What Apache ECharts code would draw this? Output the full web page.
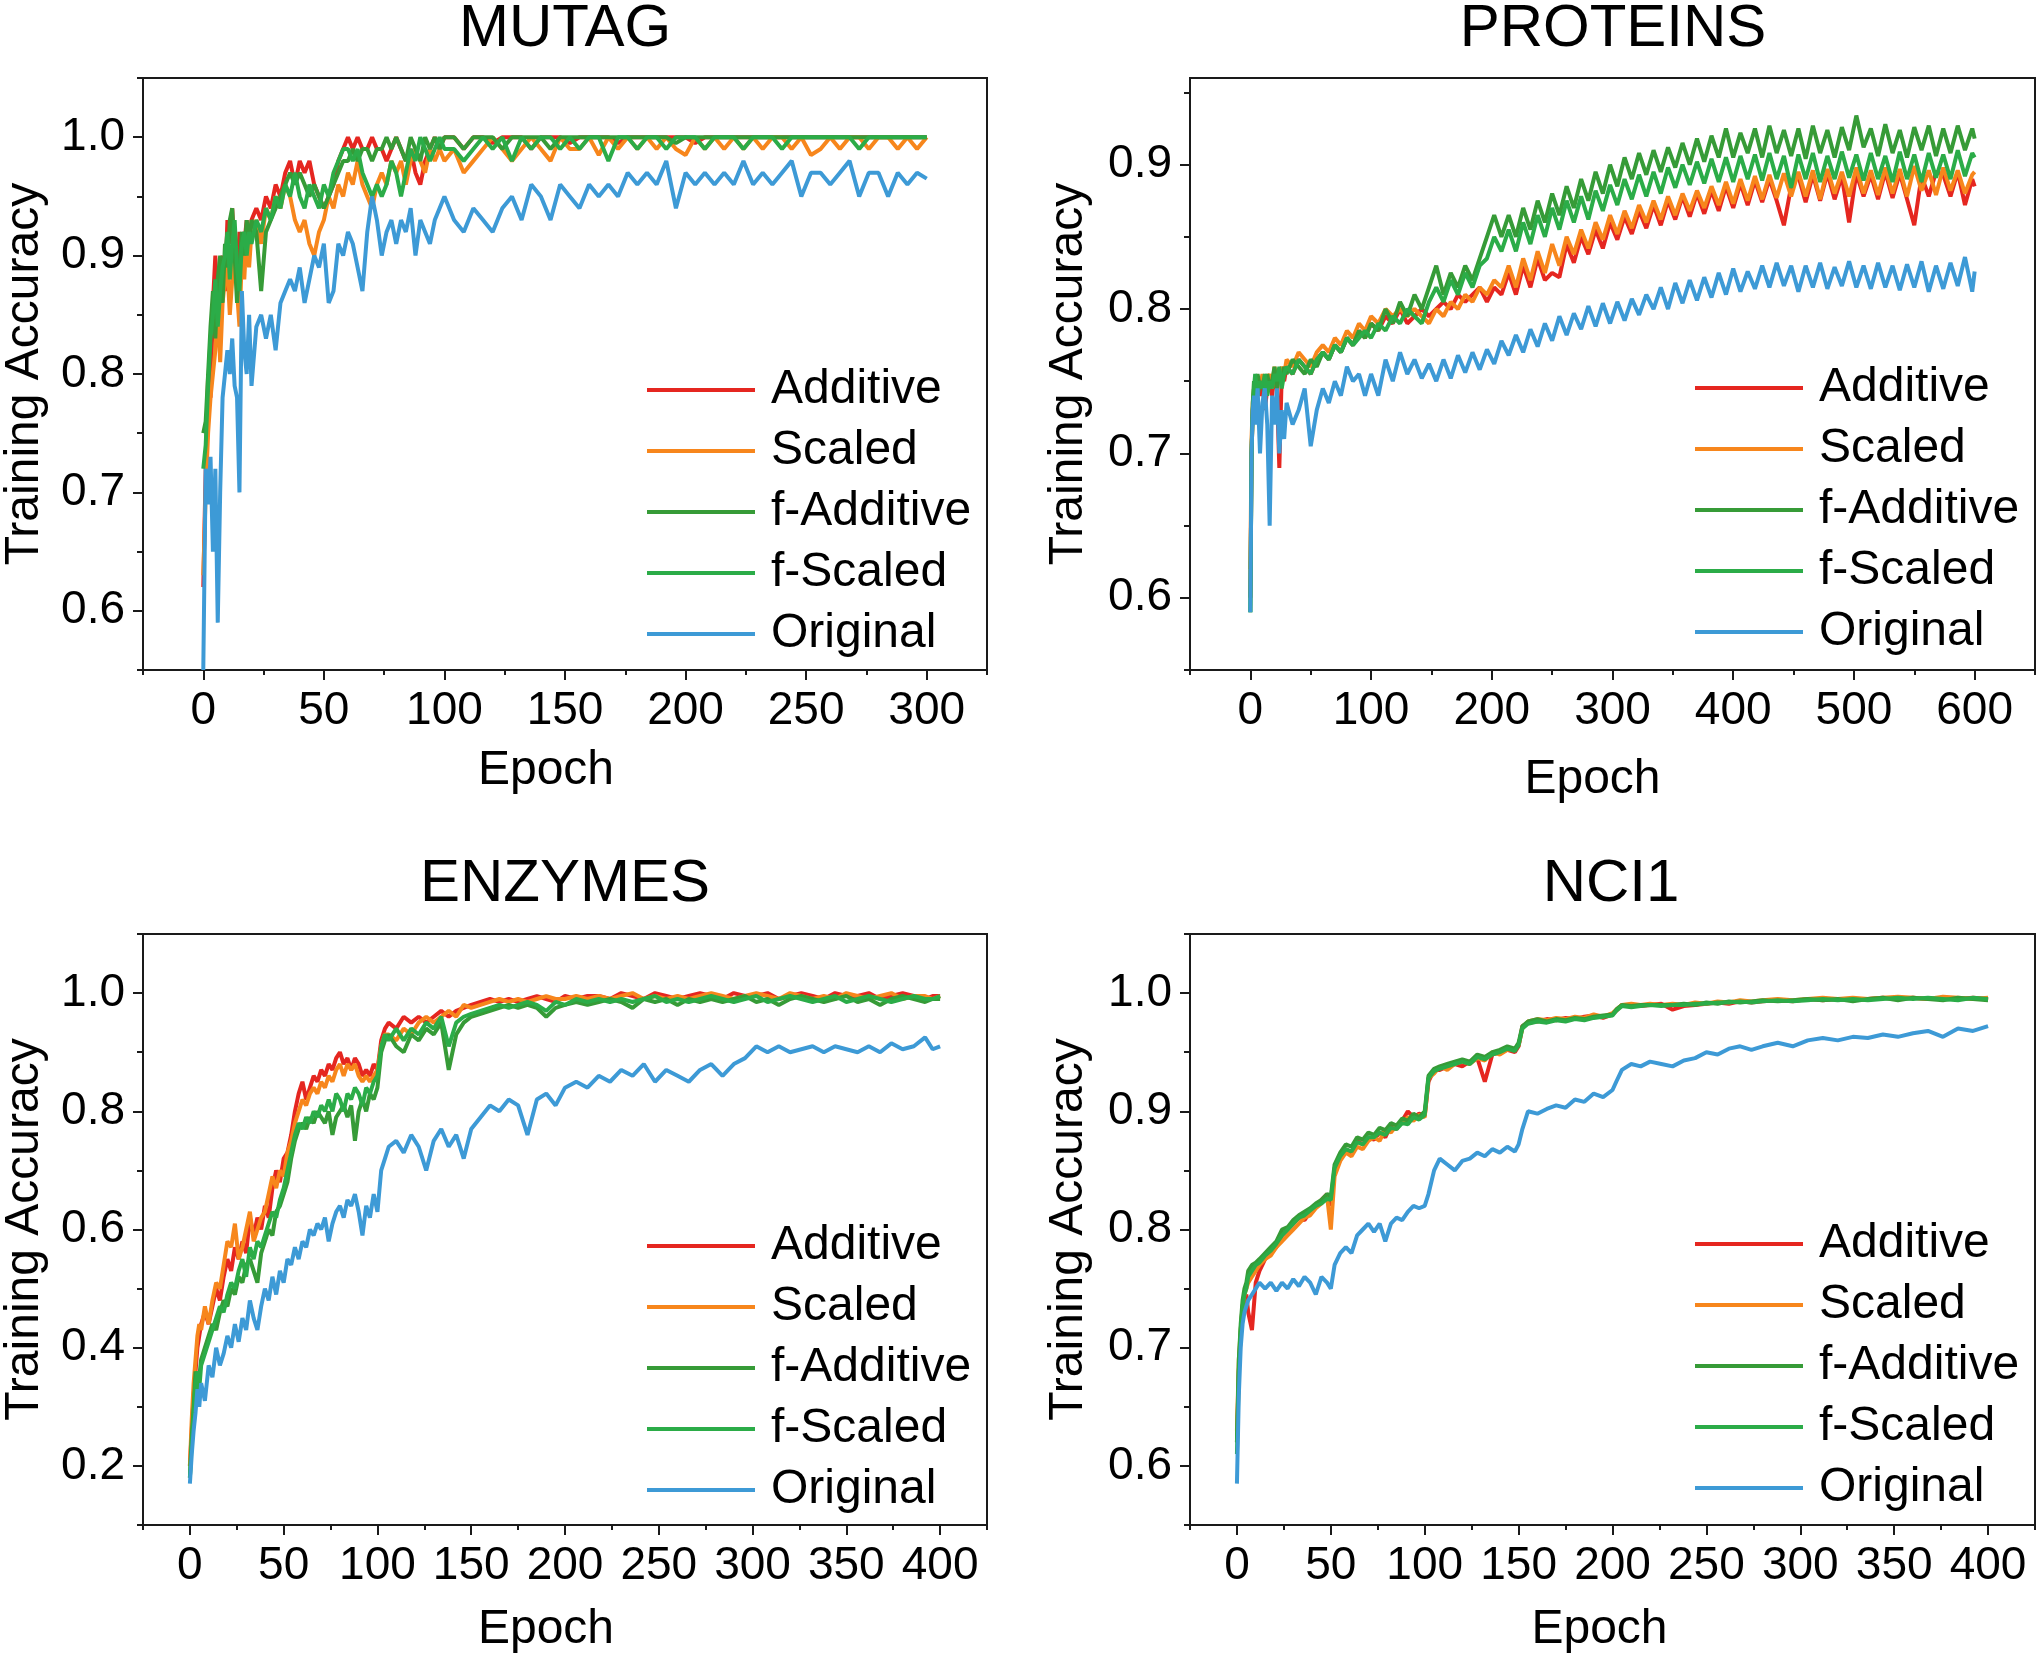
<!DOCTYPE html>
<html>
<head>
<meta charset="utf-8">
<title>Training Accuracy</title>
<script src="https://cdn.jsdelivr.net/npm/echarts@6/dist/echarts.min.js"></script>
<style>
  html, body { margin: 0; padding: 0; background: #fff; }
  #chart { width: 2040px; height: 1656px; }
</style>
</head>
<body>
<div id="chart"></div>
<script>
// 图例名称与颜色
const seriesNames = ['Additive', 'Scaled', 'f-Additive', 'f-Scaled', 'Original'];
const seriesColors = ['#e52620', '#f7861c', '#369b37', '#2bac48', '#3d9ad6'];

// ---------------- MUTAG ----------------
const mutagEpochs = [
  0, 1, 2, 3, 4, 5, 6, 7, 8, 9,
  10, 11, 12, 13, 14, 15, 16, 17, 18, 19,
  20, 22, 24, 26, 28, 30, 32, 34, 36, 38,
  40, 42, 44, 46, 48, 50, 52, 54, 56, 58,
  60, 62, 64, 66, 68, 70, 72, 74, 76, 78,
  80, 82, 84, 86, 88, 90, 92, 94, 96, 98,
  100,
  104, 108, 112, 116, 120, 124, 128, 132, 136, 140,
  144, 148, 152, 156, 160, 164, 168, 172, 176, 180,
  184, 188, 192, 196, 200, 204, 208, 212, 216, 220,
  224, 228, 232, 236, 240, 244, 248, 252, 256, 260,
  264, 268, 272, 276, 280, 284, 288, 292, 296, 300
];
const mutagAdditive = [
  0.62, 0.72, 0.80, 0.78, 0.86, 0.90, 0.84, 0.88, 0.90, 0.87,
  0.93, 0.91, 0.94, 0.90, 0.88, 0.92, 0.89, 0.91, 0.93, 0.90,
  0.93, 0.94, 0.93, 0.95, 0.94, 0.96, 0.95, 0.97, 0.98, 0.96,
  0.98, 0.97, 0.98, 0.96, 0.95, 0.94, 0.95, 0.96, 0.98, 0.99,
  1.0, 0.99, 1.0, 0.99, 0.99, 1.0, 0.99, 0.99, 0.98, 0.99,
  1.0, 0.99, 0.98, 0.99, 0.97, 0.96, 0.98, 0.99, 1.0, 0.99,
  1.0,
  1.0, 0.99, 1.0, 1.0, 0.995, 1.0, 1.0, 1.0, 0.99, 1.0,
  1.0, 1.0, 0.995, 1.0, 1.0, 1.0, 1.0, 0.995, 1.0, 1.0,
  1.0, 1.0, 1.0, 1.0, 1.0, 0.995, 1.0, 1.0, 1.0, 1.0,
  1.0, 1.0, 1.0, 1.0, 1.0, 1.0, 1.0, 1.0, 1.0, 1.0,
  1.0, 1.0, 1.0, 1.0, 1.0, 1.0, 1.0, 1.0, 1.0, 1.0
];
const mutagScaled = [
  0.63, 0.70, 0.75, 0.78, 0.80, 0.82, 0.86, 0.81, 0.86, 0.88,
  0.89, 0.85, 0.88, 0.90, 0.87, 0.84, 0.90, 0.88, 0.92, 0.89,
  0.92, 0.93, 0.91, 0.94, 0.93, 0.95, 0.94, 0.96, 0.95, 0.93,
  0.92, 0.93, 0.91, 0.90, 0.92, 0.93, 0.95, 0.94, 0.96, 0.95,
  0.97, 0.96, 0.98, 0.96, 0.95, 0.94, 0.96, 0.97, 0.96, 0.98,
  0.97, 0.98, 0.96, 0.98, 0.99, 0.98, 0.97, 0.99, 0.98, 0.99,
  0.98,
  0.99, 0.97, 0.98, 0.99, 1.0, 0.99, 0.98, 0.99, 1.0, 0.99,
  0.98, 1.0, 0.99, 0.99, 1.0, 0.985, 1.0, 0.99, 1.0, 0.99,
  1.0, 0.99, 1.0, 0.99, 0.985, 1.0, 0.99, 1.0, 0.99, 1.0,
  0.99, 1.0, 0.99, 1.0, 1.0, 0.99, 1.0, 0.985, 0.99, 1.0,
  0.99, 1.0, 1.0, 0.99, 1.0, 1.0, 0.99, 1.0, 0.99, 1.0
];
const mutagFAdditive = [
  0.75, 0.76, 0.80, 0.84, 0.87, 0.83, 0.88, 0.90, 0.86, 0.91,
  0.89, 0.93, 0.94, 0.90, 0.86, 0.89, 0.92, 0.90, 0.93, 0.91,
  0.93, 0.92, 0.87, 0.92, 0.93, 0.94, 0.95, 0.96, 0.97, 0.96,
  0.97, 0.96, 0.95, 0.96, 0.95, 0.94, 0.95, 0.96, 0.97, 0.98,
  0.98, 0.99, 0.98, 0.99, 0.99, 0.98, 0.99, 0.99, 1.0, 0.99,
  1.0, 0.99, 0.98, 1.0, 0.99, 0.98, 1.0, 0.99, 1.0, 0.99,
  1.0,
  1.0, 0.99, 1.0, 1.0, 1.0, 0.99, 1.0, 1.0, 1.0, 1.0,
  0.99, 1.0, 1.0, 1.0, 1.0, 1.0, 1.0, 1.0, 1.0, 1.0,
  1.0, 1.0, 1.0, 0.995, 1.0, 1.0, 1.0, 1.0, 1.0, 1.0,
  1.0, 1.0, 1.0, 1.0, 1.0, 1.0, 1.0, 1.0, 1.0, 1.0,
  1.0, 1.0, 1.0, 1.0, 1.0, 1.0, 1.0, 1.0, 1.0, 1.0
];
const mutagFScaled = [
  0.72, 0.74, 0.79, 0.83, 0.85, 0.88, 0.84, 0.87, 0.89, 0.90,
  0.92, 0.88, 0.91, 0.93, 0.89, 0.87, 0.91, 0.92, 0.90, 0.92,
  0.91, 0.93, 0.92, 0.94, 0.93, 0.95, 0.94, 0.96, 0.95, 0.97,
  0.95, 0.94, 0.96, 0.95, 0.94, 0.96, 0.95, 0.97, 0.98, 0.99,
  0.99, 0.98, 0.99, 0.97, 0.96, 0.95, 0.96, 0.95, 0.96, 0.98,
  0.97, 0.95, 0.97, 0.99, 0.98, 1.0, 0.99, 0.98, 0.99, 1.0,
  0.99,
  0.99, 0.98, 0.99, 1.0, 0.99, 1.0, 0.98, 1.0, 0.99, 1.0,
  1.0, 0.99, 1.0, 0.99, 1.0, 1.0, 0.98, 1.0, 1.0, 0.99,
  1.0, 1.0, 0.99, 1.0, 1.0, 1.0, 0.99, 1.0, 1.0, 1.0,
  0.99, 1.0, 1.0, 1.0, 0.99, 1.0, 1.0, 1.0, 1.0, 1.0,
  1.0, 1.0, 0.99, 1.0, 1.0, 1.0, 1.0, 1.0, 1.0, 1.0
];
const mutagOriginal = [
  0.55, 0.72, 0.69, 0.73, 0.65, 0.72, 0.59, 0.70, 0.78, 0.80,
  0.82, 0.80, 0.83, 0.79, 0.78, 0.70, 0.87, 0.82, 0.80, 0.85,
  0.79, 0.84, 0.85, 0.83, 0.85, 0.82, 0.86, 0.87, 0.88, 0.87,
  0.89, 0.86, 0.88, 0.90, 0.89, 0.91, 0.86, 0.87, 0.91, 0.90,
  0.92, 0.91, 0.89, 0.87, 0.92, 0.95, 0.93, 0.90, 0.92, 0.93,
  0.91, 0.93, 0.92, 0.94, 0.90, 0.93, 0.92, 0.91, 0.93, 0.94,
  0.95,
  0.93, 0.92, 0.94, 0.93, 0.92, 0.94, 0.95, 0.93, 0.96, 0.95,
  0.93, 0.96, 0.95, 0.94, 0.96, 0.95, 0.96, 0.95, 0.97, 0.96,
  0.97, 0.96, 0.98, 0.94, 0.97, 0.96, 0.97, 0.96, 0.97, 0.96,
  0.98, 0.96, 0.97, 0.96, 0.97, 0.98, 0.95, 0.97, 0.97, 0.96,
  0.97, 0.98, 0.95, 0.97, 0.97, 0.95, 0.97, 0.96, 0.97, 0.965
];
const mutagXTicks = [0, 50, 100, 150, 200, 250, 300];
const mutagXMinor = [-25, 25, 75, 125, 175, 225, 275, 325];
const mutagYTicks = [0.6, 0.7, 0.8, 0.9, 1.0];
const mutagYMinor = [0.55, 0.65, 0.75, 0.85, 0.95, 1.05];

// ---------------- PROTEINS ----------------
const proteinsEpochs = [
  0, 1, 2, 3, 4, 6, 8, 10, 12, 14,
  16, 18, 20, 22, 24, 26, 28, 30, 35, 40,
  45, 50, 55, 60, 65, 70, 75, 80, 85, 90,
  95, 100, 106, 112, 118, 124, 130, 136, 142, 148,
  154, 160, 166, 172, 178, 184, 190, 196, 202, 208,
  214, 220, 226, 232, 238, 244, 250, 256, 262, 268,
  274, 280, 286, 292, 298, 304, 310, 316, 322, 328,
  334, 340, 346, 352, 358, 364, 370, 376, 382, 388,
  394, 400, 406, 412, 418, 424, 430, 436, 442, 448,
  454, 460, 466, 472, 478, 484, 490, 496, 502, 508,
  514, 520, 526, 532, 538, 544, 550, 556, 562, 568,
  574, 580, 586, 592, 598, 600
];
const proteinsAdditive = [
  0.60, 0.70, 0.73, 0.74, 0.735, 0.745, 0.74, 0.75, 0.73, 0.745,
  0.75, 0.74, 0.755, 0.745, 0.69, 0.755, 0.75, 0.76, 0.755, 0.765,
  0.76, 0.755, 0.765, 0.77, 0.765, 0.775, 0.77, 0.78, 0.775, 0.785,
  0.78, 0.79, 0.785, 0.795, 0.79, 0.80, 0.79, 0.795, 0.80, 0.795,
  0.80, 0.805, 0.80, 0.81, 0.805, 0.81, 0.815, 0.805, 0.815, 0.81,
  0.825, 0.81, 0.83, 0.815, 0.835, 0.82, 0.825, 0.822, 0.845, 0.832,
  0.85, 0.838, 0.855, 0.842, 0.86, 0.848, 0.864, 0.852, 0.868, 0.856,
  0.872, 0.858, 0.875, 0.862, 0.878, 0.864, 0.88, 0.866, 0.882, 0.868,
  0.885, 0.87, 0.887, 0.872, 0.889, 0.874, 0.89, 0.875, 0.858, 0.885,
  0.892, 0.874, 0.893, 0.875, 0.894, 0.876, 0.892, 0.86, 0.894, 0.878,
  0.893, 0.876, 0.895, 0.877, 0.894, 0.876, 0.858, 0.892, 0.878, 0.895,
  0.893, 0.878, 0.895, 0.872, 0.89, 0.885
];
const proteinsScaled = [
  0.62, 0.71, 0.735, 0.745, 0.74, 0.75, 0.745, 0.755, 0.74, 0.75,
  0.755, 0.745, 0.76, 0.75, 0.755, 0.76, 0.755, 0.765, 0.76, 0.77,
  0.765, 0.76, 0.77, 0.775, 0.77, 0.78, 0.775, 0.785, 0.78, 0.79,
  0.785, 0.795, 0.79, 0.80, 0.795, 0.80, 0.795, 0.80, 0.795, 0.79,
  0.80, 0.795, 0.805, 0.80, 0.81, 0.805, 0.815, 0.81, 0.82, 0.815,
  0.83, 0.815, 0.835, 0.82, 0.84, 0.825, 0.845, 0.83, 0.85, 0.838,
  0.855, 0.842, 0.86, 0.848, 0.865, 0.852, 0.868, 0.856, 0.872, 0.86,
  0.875, 0.862, 0.878, 0.865, 0.88, 0.868, 0.882, 0.87, 0.885, 0.872,
  0.888, 0.873, 0.89, 0.875, 0.892, 0.876, 0.893, 0.877, 0.894, 0.878,
  0.895, 0.878, 0.896, 0.876, 0.897, 0.88, 0.895, 0.878, 0.898, 0.88,
  0.896, 0.879, 0.898, 0.88, 0.897, 0.878, 0.899, 0.882, 0.896, 0.879,
  0.898, 0.882, 0.896, 0.88, 0.893, 0.895
];
const proteinsFAdditive = [
  0.59, 0.70, 0.735, 0.75, 0.74, 0.755, 0.745, 0.75, 0.74, 0.755,
  0.745, 0.75, 0.76, 0.745, 0.755, 0.75, 0.76, 0.755, 0.765, 0.76,
  0.755, 0.765, 0.76, 0.77, 0.765, 0.775, 0.77, 0.78, 0.775, 0.785,
  0.78, 0.79, 0.785, 0.80, 0.79, 0.805, 0.795, 0.81, 0.80, 0.815,
  0.83, 0.81, 0.825, 0.815, 0.83, 0.82, 0.835, 0.85, 0.865, 0.85,
  0.865, 0.85, 0.87, 0.855, 0.875, 0.86, 0.88, 0.865, 0.885, 0.87,
  0.89, 0.875, 0.895, 0.88, 0.90, 0.885, 0.905, 0.89, 0.908, 0.893,
  0.91, 0.895, 0.912, 0.898, 0.915, 0.90, 0.918, 0.902, 0.92, 0.905,
  0.925, 0.905, 0.922, 0.908, 0.925, 0.905, 0.927, 0.908, 0.924, 0.906,
  0.925, 0.904, 0.927, 0.908, 0.924, 0.905, 0.926, 0.91, 0.934, 0.912,
  0.925, 0.906, 0.928, 0.908, 0.924, 0.905, 0.926, 0.91, 0.927, 0.906,
  0.925, 0.908, 0.927, 0.91, 0.925, 0.918
];
const proteinsFScaled = [
  0.59, 0.70, 0.73, 0.745, 0.755, 0.74, 0.75, 0.745, 0.755, 0.74,
  0.75, 0.745, 0.755, 0.75, 0.76, 0.745, 0.755, 0.76, 0.755, 0.765,
  0.76, 0.755, 0.765, 0.77, 0.765, 0.775, 0.77, 0.78, 0.775, 0.78,
  0.785, 0.78, 0.79, 0.785, 0.795, 0.79, 0.80, 0.795, 0.79, 0.805,
  0.815, 0.805, 0.82, 0.81, 0.825, 0.815, 0.83, 0.835, 0.85, 0.84,
  0.855, 0.84, 0.86, 0.845, 0.865, 0.85, 0.87, 0.855, 0.875, 0.86,
  0.878, 0.862, 0.882, 0.868, 0.886, 0.872, 0.89, 0.876, 0.893, 0.878,
  0.895, 0.88, 0.898, 0.884, 0.90, 0.886, 0.902, 0.887, 0.904, 0.888,
  0.905, 0.888, 0.906, 0.89, 0.907, 0.889, 0.908, 0.89, 0.906, 0.884,
  0.907, 0.89, 0.908, 0.888, 0.906, 0.89, 0.909, 0.891, 0.907, 0.889,
  0.908, 0.89, 0.906, 0.888, 0.909, 0.89, 0.907, 0.888, 0.908, 0.891,
  0.907, 0.89, 0.91, 0.892, 0.908, 0.905
];
const proteinsOriginal = [
  0.59, 0.70, 0.73, 0.74, 0.72, 0.745, 0.70, 0.735, 0.745, 0.72,
  0.65, 0.74, 0.72, 0.745, 0.70, 0.73, 0.71, 0.735, 0.72, 0.73,
  0.745, 0.705, 0.73, 0.745, 0.735, 0.75, 0.74, 0.76, 0.75, 0.755,
  0.74, 0.755, 0.74, 0.765, 0.75, 0.77, 0.755, 0.765, 0.752, 0.762,
  0.75, 0.765, 0.752, 0.768, 0.756, 0.77, 0.758, 0.772, 0.762, 0.778,
  0.768, 0.782, 0.77, 0.786, 0.774, 0.79, 0.778, 0.795, 0.782, 0.797,
  0.786, 0.802, 0.788, 0.804, 0.79, 0.805, 0.792, 0.807, 0.796, 0.81,
  0.80, 0.815, 0.80, 0.818, 0.804, 0.82, 0.806, 0.822, 0.808, 0.825,
  0.81, 0.828, 0.812, 0.826, 0.814, 0.83, 0.815, 0.832, 0.816, 0.83,
  0.812, 0.83, 0.815, 0.832, 0.814, 0.829, 0.816, 0.833, 0.815, 0.83,
  0.814, 0.832, 0.815, 0.83, 0.813, 0.831, 0.815, 0.833, 0.812, 0.83,
  0.814, 0.832, 0.816, 0.836, 0.812, 0.826
];
const proteinsXTicks = [0, 100, 200, 300, 400, 500, 600];
const proteinsXMinor = [-50, 50, 150, 250, 350, 450, 550, 650];
const proteinsYTicks = [0.6, 0.7, 0.8, 0.9];
const proteinsYMinor = [0.55, 0.65, 0.75, 0.85, 0.95];

// ---------------- ENZYMES ----------------
const enzymesEpochs = [
  0, 1, 2, 3, 4, 5, 6, 8, 10, 12,
  14, 16, 18, 20, 22, 24, 26, 28, 30, 32,
  34, 36, 38, 40, 42, 44, 46, 48, 50, 52,
  54, 56, 58, 60, 62, 64, 66, 68, 70, 72,
  74, 76, 78, 80, 82, 84, 86, 88, 90, 92,
  94, 96, 98, 100, 102, 104, 106, 110, 114, 118,
  122, 126, 130, 134, 138, 142, 146, 150, 155, 160,
  165, 170, 175, 180, 185, 190, 195, 200, 206, 212,
  218, 224, 230, 236, 242, 248, 254, 260, 266, 272,
  278, 284, 290, 296, 302, 308, 314, 320, 326, 332,
  338, 344, 350, 356, 362, 368, 374, 380, 386, 392,
  396, 400
];
const enzymesAdditive = [
  0.20, 0.26, 0.32, 0.36, 0.40, 0.42, 0.44, 0.46, 0.44, 0.47,
  0.50, 0.48, 0.52, 0.55, 0.53, 0.57, 0.55, 0.58, 0.56, 0.62,
  0.59, 0.62, 0.60, 0.64, 0.62, 0.67, 0.70, 0.68, 0.72, 0.73,
  0.76, 0.80, 0.83, 0.85, 0.82, 0.84, 0.86, 0.85, 0.87, 0.86,
  0.88, 0.87, 0.89, 0.90, 0.88, 0.89, 0.87, 0.89, 0.88, 0.86,
  0.87, 0.86, 0.88, 0.87, 0.92, 0.94, 0.95, 0.94, 0.96, 0.95,
  0.96, 0.95, 0.96, 0.97, 0.96, 0.97, 0.975, 0.98, 0.985, 0.99,
  0.985, 0.99, 0.985, 0.99, 0.995, 0.99, 0.985, 0.995, 0.99, 0.995,
  0.995, 0.99, 1.0, 0.995, 0.99, 1.0, 0.995, 0.99, 0.995, 1.0,
  0.995, 0.99, 1.0, 0.995, 0.995, 1.0, 0.99, 0.995, 1.0, 0.995,
  0.99, 1.0, 0.995, 0.995, 1.0, 0.99, 0.995, 1.0, 0.995, 0.99,
  0.995, 0.995
];
const enzymesScaled = [
  0.20, 0.28, 0.34, 0.38, 0.42, 0.44, 0.43, 0.47, 0.44, 0.48,
  0.51, 0.50, 0.54, 0.58, 0.57, 0.61, 0.55, 0.57, 0.60, 0.63,
  0.58, 0.60, 0.62, 0.63, 0.66, 0.69, 0.67, 0.70, 0.69, 0.73,
  0.75, 0.78, 0.80, 0.82, 0.81, 0.83, 0.84, 0.83, 0.85, 0.84,
  0.86, 0.85, 0.87, 0.88, 0.86, 0.88, 0.87, 0.88, 0.86, 0.85,
  0.86, 0.85, 0.86, 0.87, 0.91, 0.93, 0.93, 0.92, 0.94, 0.93,
  0.95, 0.96, 0.95, 0.96, 0.97, 0.96, 0.98, 0.975, 0.98, 0.985,
  0.99, 0.985, 0.99, 0.985, 0.99, 0.995, 0.99, 0.99, 0.995, 0.99,
  0.995, 0.99, 0.995, 1.0, 0.99, 0.995, 0.99, 0.995, 0.99, 0.995,
  1.0, 0.995, 0.99, 0.995, 1.0, 0.995, 0.99, 1.0, 0.995, 0.99,
  0.995, 0.99, 1.0, 0.995, 0.99, 0.995, 1.0, 0.99, 0.995, 0.995,
  0.99, 0.995
];
const enzymesFAdditive = [
  0.18, 0.25, 0.30, 0.36, 0.33, 0.35, 0.38, 0.40, 0.42, 0.44,
  0.43, 0.46, 0.48, 0.47, 0.50, 0.49, 0.52, 0.51, 0.54, 0.55,
  0.53, 0.51, 0.56, 0.58, 0.60, 0.59, 0.63, 0.64, 0.66, 0.68,
  0.72, 0.75, 0.77, 0.78, 0.77, 0.79, 0.78, 0.80, 0.79, 0.78,
  0.80, 0.76, 0.79, 0.80, 0.81, 0.79, 0.81, 0.75, 0.80, 0.82,
  0.80, 0.83, 0.82, 0.84, 0.90, 0.92, 0.93, 0.91, 0.90, 0.93,
  0.92, 0.94, 0.93, 0.95, 0.87, 0.93, 0.95, 0.96, 0.965, 0.97,
  0.975, 0.98, 0.975, 0.98, 0.975, 0.96, 0.975, 0.98, 0.985, 0.98,
  0.985, 0.99, 0.985, 0.975, 0.99, 0.985, 0.99, 0.98, 0.99, 0.985,
  0.99, 0.985, 0.99, 0.995, 0.985, 0.99, 0.98, 0.99, 0.995, 0.99,
  0.985, 0.99, 0.995, 0.985, 0.99, 0.98, 0.99, 0.995, 0.99, 0.985,
  0.99, 0.99
];
const enzymesFScaled = [
  0.18, 0.24, 0.29, 0.34, 0.36, 0.33, 0.37, 0.39, 0.41, 0.43,
  0.45, 0.47, 0.46, 0.49, 0.51, 0.50, 0.53, 0.55, 0.52, 0.57,
  0.55, 0.58, 0.57, 0.59, 0.61, 0.63, 0.62, 0.65, 0.67, 0.70,
  0.73, 0.76, 0.78, 0.77, 0.79, 0.78, 0.80, 0.79, 0.81, 0.80,
  0.82, 0.80, 0.83, 0.82, 0.80, 0.83, 0.82, 0.84, 0.83, 0.81,
  0.84, 0.83, 0.85, 0.86, 0.91, 0.93, 0.92, 0.94, 0.92, 0.94,
  0.93, 0.95, 0.94, 0.96, 0.91, 0.95, 0.96, 0.965, 0.97, 0.975,
  0.98, 0.975, 0.98, 0.985, 0.98, 0.97, 0.985, 0.98, 0.99, 0.985,
  0.99, 0.985, 0.99, 0.985, 0.99, 0.995, 0.985, 0.99, 0.985, 0.99,
  0.995, 0.99, 0.985, 0.99, 0.995, 0.985, 0.99, 0.995, 0.99, 0.985,
  0.99, 0.995, 0.985, 0.99, 0.995, 0.99, 0.985, 0.99, 0.995, 0.99,
  0.99, 0.995
];
const enzymesOriginal = [
  0.17, 0.22, 0.26, 0.29, 0.33, 0.30, 0.34, 0.31, 0.37, 0.35,
  0.40, 0.37, 0.39, 0.42, 0.40, 0.44, 0.41, 0.45, 0.43, 0.48,
  0.45, 0.43, 0.47, 0.50, 0.48, 0.52, 0.49, 0.53, 0.51, 0.55,
  0.54, 0.57, 0.55, 0.58, 0.57, 0.60, 0.59, 0.61, 0.60, 0.62,
  0.58, 0.61, 0.63, 0.64, 0.62, 0.65, 0.64, 0.66, 0.63, 0.59,
  0.64, 0.62, 0.66, 0.63, 0.70, 0.72, 0.74, 0.75, 0.73, 0.76,
  0.74, 0.70, 0.75, 0.77, 0.74, 0.76, 0.72, 0.77, 0.79, 0.81,
  0.80, 0.82, 0.81, 0.76, 0.82, 0.83, 0.81, 0.84, 0.85, 0.84,
  0.86, 0.85, 0.87, 0.86, 0.88, 0.85, 0.87, 0.86, 0.85, 0.87,
  0.88, 0.86, 0.88, 0.89, 0.91, 0.90, 0.91, 0.90, 0.905, 0.91,
  0.90, 0.91, 0.905, 0.90, 0.91, 0.90, 0.915, 0.905, 0.91, 0.925,
  0.905, 0.91
];
const enzymesXTicks = [0, 50, 100, 150, 200, 250, 300, 350, 400];
const enzymesXMinor = [-25, 25, 75, 125, 175, 225, 275, 325, 375, 425];
const enzymesYTicks = [0.2, 0.4, 0.6, 0.8, 1.0];
const enzymesYMinor = [0.1, 0.3, 0.5, 0.7, 0.9, 1.1];

// ---------------- NCI1 ----------------
const nci1Epochs = [
  0, 1, 2, 3, 4, 5, 6, 8, 10, 12,
  15, 18, 21, 24, 27, 30, 33, 36, 39, 42,
  45, 48, 50, 52, 55, 58, 61, 64, 67, 70,
  73, 76, 79, 82, 85, 88, 91, 94, 97, 100,
  102, 105, 108, 112, 116, 120, 124, 128, 132, 136,
  140, 144, 148, 150, 152, 155, 160, 165, 170, 175,
  180, 185, 190, 195, 200, 202, 205, 210, 215, 220,
  226, 232, 238, 244, 250, 256, 262, 268, 274, 280,
  288, 296, 304, 312, 320, 328, 336, 344, 352, 360,
  368, 376, 384, 392, 400
];
const nci1Additive = [
  0.62, 0.68, 0.71, 0.73, 0.74, 0.745, 0.73, 0.715, 0.755, 0.765,
  0.775, 0.78, 0.785, 0.795, 0.80, 0.805, 0.81, 0.808, 0.815, 0.82,
  0.825, 0.83, 0.82, 0.85, 0.862, 0.868, 0.865, 0.875, 0.872, 0.878,
  0.876, 0.882, 0.878, 0.888, 0.885, 0.892, 0.90, 0.895, 0.898, 0.896,
  0.925, 0.935, 0.935, 0.938, 0.94, 0.938, 0.942, 0.945, 0.925, 0.948,
  0.95, 0.952, 0.95, 0.955, 0.972, 0.975, 0.976, 0.978, 0.977, 0.979,
  0.978, 0.98, 0.981, 0.979, 0.982, 0.985, 0.99, 0.99, 0.989, 0.99,
  0.991, 0.986, 0.989, 0.99, 0.991, 0.992, 0.991, 0.993, 0.992, 0.993,
  0.994, 0.993, 0.995, 0.994, 0.995, 0.994, 0.995, 0.996, 0.995, 0.996,
  0.995, 0.996, 0.995, 0.996, 0.995
];
const nci1Scaled = [
  0.63, 0.69, 0.715, 0.735, 0.745, 0.75, 0.755, 0.76, 0.765, 0.77,
  0.775, 0.778, 0.785, 0.79, 0.795, 0.80, 0.805, 0.81, 0.812, 0.818,
  0.822, 0.828, 0.80, 0.845, 0.858, 0.865, 0.862, 0.87, 0.868, 0.875,
  0.878, 0.875, 0.885, 0.882, 0.888, 0.89, 0.895, 0.892, 0.897, 0.895,
  0.928, 0.932, 0.938, 0.935, 0.94, 0.942, 0.94, 0.945, 0.943, 0.95,
  0.948, 0.952, 0.953, 0.956, 0.97, 0.976, 0.978, 0.977, 0.979, 0.978,
  0.98, 0.979, 0.982, 0.98, 0.983, 0.986, 0.99, 0.991, 0.99, 0.991,
  0.99, 0.991, 0.99, 0.992, 0.991, 0.993, 0.992, 0.994, 0.993, 0.994,
  0.995, 0.994, 0.995, 0.996, 0.995, 0.996, 0.995, 0.996, 0.997, 0.996,
  0.995, 0.997, 0.996, 0.995, 0.996
];
const nci1FAdditive = [
  0.62, 0.69, 0.72, 0.74, 0.75, 0.755, 0.765, 0.77, 0.772, 0.775,
  0.78, 0.785, 0.79, 0.80, 0.802, 0.808, 0.812, 0.815, 0.818, 0.822,
  0.825, 0.83, 0.828, 0.855, 0.865, 0.872, 0.87, 0.878, 0.876, 0.882,
  0.88, 0.886, 0.884, 0.89, 0.888, 0.894, 0.892, 0.898, 0.895, 0.90,
  0.93, 0.936, 0.938, 0.94, 0.942, 0.944, 0.942, 0.948, 0.946, 0.95,
  0.952, 0.955, 0.953, 0.958, 0.972, 0.976, 0.978, 0.976, 0.978, 0.977,
  0.979, 0.978, 0.98, 0.981, 0.982, 0.986, 0.99, 0.989, 0.99, 0.99,
  0.99, 0.99, 0.991, 0.99, 0.992, 0.991, 0.993, 0.992, 0.993, 0.994,
  0.993, 0.994, 0.995, 0.994, 0.995, 0.993, 0.995, 0.996, 0.994, 0.996,
  0.995, 0.994, 0.996, 0.995, 0.994
];
const nci1FScaled = [
  0.61, 0.68, 0.715, 0.735, 0.745, 0.75, 0.76, 0.765, 0.77, 0.772,
  0.778, 0.782, 0.788, 0.795, 0.80, 0.805, 0.81, 0.812, 0.816, 0.82,
  0.822, 0.826, 0.825, 0.852, 0.862, 0.868, 0.866, 0.874, 0.872, 0.878,
  0.878, 0.882, 0.88, 0.886, 0.885, 0.89, 0.889, 0.895, 0.893, 0.897,
  0.928, 0.934, 0.936, 0.938, 0.94, 0.942, 0.94, 0.946, 0.944, 0.948,
  0.95, 0.953, 0.951, 0.956, 0.97, 0.974, 0.976, 0.975, 0.977, 0.976,
  0.978, 0.977, 0.979, 0.98, 0.981, 0.985, 0.989, 0.988, 0.989, 0.99,
  0.989, 0.99, 0.99, 0.991, 0.991, 0.992, 0.992, 0.993, 0.992, 0.993,
  0.994, 0.993, 0.994, 0.995, 0.994, 0.995, 0.994, 0.995, 0.996, 0.995,
  0.996, 0.995, 0.994, 0.996, 0.995
];
const nci1Original = [
  0.585, 0.66, 0.70, 0.72, 0.73, 0.735, 0.74, 0.745, 0.75, 0.755,
  0.75, 0.755, 0.748, 0.755, 0.75, 0.758, 0.752, 0.76, 0.755, 0.745,
  0.76, 0.755, 0.75, 0.77, 0.78, 0.785, 0.78, 0.795, 0.80, 0.805,
  0.798, 0.805, 0.79, 0.805, 0.81, 0.808, 0.815, 0.82, 0.818, 0.82,
  0.83, 0.85, 0.86, 0.855, 0.85, 0.858, 0.86, 0.865, 0.862, 0.868,
  0.865, 0.87, 0.866, 0.872, 0.885, 0.90, 0.898, 0.902, 0.905, 0.903,
  0.91, 0.908, 0.915, 0.912, 0.918, 0.925, 0.935, 0.94, 0.938, 0.942,
  0.94, 0.938, 0.943, 0.945, 0.95, 0.948, 0.953, 0.955, 0.952, 0.955,
  0.958, 0.955, 0.96, 0.962, 0.96, 0.963, 0.962, 0.965, 0.963, 0.966,
  0.968, 0.963, 0.97, 0.968, 0.972
];
const nci1XTicks = [0, 50, 100, 150, 200, 250, 300, 350, 400];
const nci1XMinor = [-25, 25, 75, 125, 175, 225, 275, 325, 375, 425];
const nci1YTicks = [0.6, 0.7, 0.8, 0.9, 1.0];
const nci1YMinor = [0.55, 0.65, 0.75, 0.85, 0.95, 1.05];

// 四个子图的布局
const panels = [
  {
    title: 'MUTAG', epochs: mutagEpochs,
    values: [mutagAdditive, mutagScaled, mutagFAdditive, mutagFScaled, mutagOriginal],
    xMin: -25, xMax: 325, xTicks: mutagXTicks, xMinor: mutagXMinor,
    yMin: 0.55, yMax: 1.05, yTicks: mutagYTicks, yMinor: mutagYMinor,
    grid: { left: 140, top: 78, width: 847, height: 592 },
    titleX: 565, titleY: -1, legendX: 647, legendY: 366, epochShift: 38, epochGap: 77, nameGap: 94
  },
  {
    title: 'PROTEINS', epochs: proteinsEpochs,
    values: [proteinsAdditive, proteinsScaled, proteinsFAdditive, proteinsFScaled, proteinsOriginal],
    xMin: -50, xMax: 650, xTicks: proteinsXTicks, xMinor: proteinsXMinor,
    yMin: 0.55, yMax: 0.96, yTicks: proteinsYTicks, yMinor: proteinsYMinor,
    grid: { left: 1190, top: 78, width: 845, height: 592 },
    titleX: 1613, titleY: -1, legendX: 1695, legendY: 364, epochShift: 40, epochGap: 86, nameGap: 97
  },
  {
    title: 'ENZYMES', epochs: enzymesEpochs,
    values: [enzymesAdditive, enzymesScaled, enzymesFAdditive, enzymesFScaled, enzymesOriginal],
    xMin: -25, xMax: 425, xTicks: enzymesXTicks, xMinor: enzymesXMinor,
    yMin: 0.1, yMax: 1.1, yTicks: enzymesYTicks, yMinor: enzymesYMinor,
    grid: { left: 140, top: 934, width: 847, height: 591 },
    titleX: 565, titleY: 854, legendX: 647, legendY: 1222, epochShift: 38, epochGap: 81, nameGap: 94
  },
  {
    title: 'NCI1', epochs: nci1Epochs,
    values: [nci1Additive, nci1Scaled, nci1FAdditive, nci1FScaled, nci1Original],
    xMin: -25, xMax: 425, xTicks: nci1XTicks, xMinor: nci1XMinor,
    yMin: 0.55, yMax: 1.05, yTicks: nci1YTicks, yMinor: nci1YMinor,
    grid: { left: 1190, top: 934, width: 845, height: 591 },
    titleX: 1611, titleY: 854, legendX: 1695, legendY: 1220, epochShift: 26, epochGap: 81, nameGap: 97
  }
];

const fontFamily = '"Liberation Sans", Arial, sans-serif';
const axisColor = '#1a1a1a';

const chart = echarts.init(document.getElementById('chart'));

const grids = [];
const titles = [];
const legends = [];
const xAxes = [];
const yAxes = [];
const series = [];

panels.forEach((p, i) => {
  grids.push(Object.assign({ show: true, borderColor: axisColor, borderWidth: 2, backgroundColor: 'transparent' }, p.grid));

  titles.push({
    text: p.title,
    left: p.titleX,
    top: p.titleY,
    textAlign: 'center',
    padding: 0,
    textStyle: { fontSize: 60, fontWeight: 'normal', color: '#000', fontFamily: fontFamily }
  });

  legends.push({
    data: seriesNames,
    orient: 'vertical',
    left: p.legendX,
    top: p.legendY,
    padding: 0,
    icon: 'rect',
    itemWidth: 108,
    itemHeight: 4,
    itemGap: 13,
    selectedMode: false,
    textStyle: { fontSize: 48, lineHeight: 48, color: '#000', fontFamily: fontFamily, padding: [0, 0, 0, 11] }
  });

  // 主刻度 + 标签
  xAxes.push({
    type: 'value', gridIndex: i, position: 'bottom', min: p.xMin, max: p.xMax,
    name: 'Epoch', nameLocation: 'middle', nameGap: p.epochGap,
    nameTextStyle: { fontSize: 48, color: '#000', fontFamily: fontFamily, padding: [0, p.epochShift, 0, 0] },
    axisLine: { show: true, onZero: false, lineStyle: { color: axisColor, width: 2 } },
    axisTick: { show: true, customValues: p.xTicks, length: 10, lineStyle: { color: axisColor, width: 2 } },
    axisLabel: { customValues: p.xTicks, fontSize: 46, color: '#000', fontFamily: fontFamily, margin: 18 },
    splitLine: { show: false }
  });
  // 次刻度
  xAxes.push({
    type: 'value', gridIndex: i, position: 'bottom', min: p.xMin, max: p.xMax,
    axisLine: { show: false, onZero: false },
    axisTick: { show: true, customValues: p.xMinor, length: 5, lineStyle: { color: axisColor, width: 2 } },
    axisLabel: { show: false },
    splitLine: { show: false }
  });

  yAxes.push({
    type: 'value', gridIndex: i, position: 'left', min: p.yMin, max: p.yMax,
    name: 'Training Accuracy', nameLocation: 'middle', nameGap: p.nameGap,
    nameTextStyle: { fontSize: 48, color: '#000', fontFamily: fontFamily },
    axisLine: { show: true, onZero: false, lineStyle: { color: axisColor, width: 2 } },
    axisTick: { show: true, customValues: p.yTicks, length: 10, lineStyle: { color: axisColor, width: 2 } },
    axisLabel: {
      customValues: p.yTicks, fontSize: 46, color: '#000', fontFamily: fontFamily, margin: 18,
      formatter: v => v.toFixed(1)
    },
    splitLine: { show: false }
  });
  yAxes.push({
    type: 'value', gridIndex: i, position: 'left', min: p.yMin, max: p.yMax,
    axisLine: { show: false, onZero: false },
    axisTick: { show: true, customValues: p.yMinor, length: 6, lineStyle: { color: axisColor, width: 2 } },
    axisLabel: { show: false },
    splitLine: { show: false }
  });

  seriesNames.forEach((name, k) => {
    const vals = p.values[k];
    if (vals.length !== p.epochs.length) {
      console.warn(p.title, name, 'length mismatch', vals.length, p.epochs.length);
    }
    series.push({
      type: 'line',
      name: name,
      xAxisIndex: i * 2,
      yAxisIndex: i * 2,
      data: p.epochs.map((e, j) => [e, vals[j]]),
      symbol: 'none',
      showSymbol: false,
      clip: true,
      lineStyle: { width: 4, color: seriesColors[k] },
      itemStyle: { color: seriesColors[k] },
      emphasis: { disabled: true }
    });
  });
});

chart.setOption({
  animation: false,
  backgroundColor: '#fff',
  textStyle: { fontFamily: fontFamily },
  title: titles,
  legend: legends,
  grid: grids,
  xAxis: xAxes,
  yAxis: yAxes,
  series: series
});
</script>
</body>
</html>
